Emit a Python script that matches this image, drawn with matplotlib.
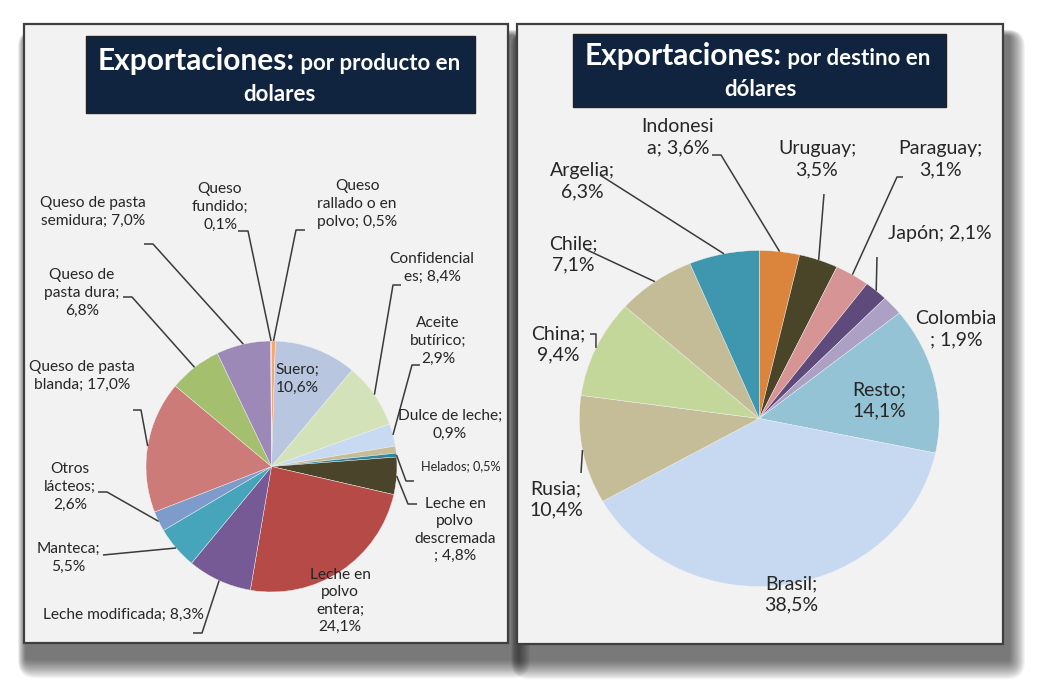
import numpy as np
import matplotlib.pyplot as plt
from matplotlib.patches import Rectangle, FancyBboxPatch

# datos: exportaciones por producto (%)
productos = ['Queso rallado o en polvo', 'Suero', 'Confidenciales', 'Aceite butírico',
             'Dulce de leche', 'Helados', 'Leche en polvo descremada',
             'Leche en polvo entera', 'Leche modificada', 'Manteca', 'Otros lácteos',
             'Queso de pasta blanda', 'Queso de pasta dura', 'Queso de pasta semidura',
             'Queso fundido']
prod_valores = [0.5, 10.6, 8.4, 2.9, 0.9, 0.5, 4.8, 24.1, 8.3, 5.5, 2.6, 17.0, 6.8, 7.0, 0.1]
prod_etiquetas = ['Queso\nrallado o en\npolvo; 0,5%', 'Suero;\n10,6%', 'Confidencial\nes; 8,4%',
                  'Aceite\nbutírico;\n2,9%', 'Dulce de leche;\n0,9%', 'Helados; 0,5%',
                  'Leche en\npolvo\ndescremada\n; 4,8%', 'Leche en\npolvo\nentera;\n24,1%',
                  'Leche modificada; 8,3%', 'Manteca;\n5,5%', 'Otros\nlácteos;\n2,6%',
                  'Queso de pasta\nblanda; 17,0%', 'Queso de\npasta dura;\n6,8%',
                  'Queso de pasta\nsemidura; 7,0%', 'Queso\nfundido;\n0,1%']
prod_colores = ['#F9A66C', '#B8C6E0', '#D4E2BA', '#C8DAF1', '#C4BD97', '#31859C', '#4A452A',
                '#B64A47', '#765A96', '#46A4BB', '#7E9CCB', '#CD7B78', '#A4C06E', '#9C89B8',
                '#E6B9B8']

# datos: exportaciones por destino (%)
destinos = ['Indonesia', 'Uruguay', 'Paraguay', 'Japón', 'Colombia', 'Resto', 'Brasil',
            'Rusia', 'China', 'Chile', 'Argelia']
dest_valores = [3.6, 3.5, 3.1, 2.1, 1.9, 14.1, 38.5, 10.4, 9.4, 7.1, 6.3]
dest_etiquetas = ['Indonesi\na; 3,6%', 'Uruguay;\n3,5%', 'Paraguay;\n3,1%', 'Japón; 2,1%',
                  'Colombia\n; 1,9%', 'Resto;\n14,1%', 'Brasil;\n38,5%', 'Rusia;\n10,4%',
                  'China;\n9,4%', 'Chile;\n7,1%', 'Argelia;\n6,3%']
dest_colores = ['#DB843C', '#4A4528', '#D69594', '#5F4A7C', '#ACA0C5', '#93C3D5', '#C7D9F0',
                '#C5BD98', '#C4D79B', '#C4BC96', '#3F96AF']

W, H = 1051, 693
fig = plt.figure(figsize=(W / 100, H / 100), dpi=100)
fig.patch.set_facecolor('white')


def pixel_axes(zorder):
    ax = fig.add_axes([0, 0, 1, 1], zorder=zorder)
    ax.set_xlim(0, W)
    ax.set_ylim(H, 0)
    ax.axis('off')
    ax.patch.set_alpha(0)
    return ax


fondo = pixel_axes(0)
capa = pixel_axes(3)

# paneles con sombra
for (x0, y0, x1, y1) in [(24, 24, 508, 643), (517, 24, 1003, 644)]:
    for k in range(16):
        g = 16 - k
        fondo.add_patch(FancyBboxPatch((x0 + 2 - g * 0.5, y0 + 12 - g * 0.4),
                                       (x1 - x0) + 4 + g * 1.5, (y1 - y0) + 4 + g * 1.6,
                                       boxstyle='round,pad=0,rounding_size=%d' % (g + 2),
                                       fc='black', ec='none', alpha=0.045))
    fondo.add_patch(Rectangle((x0, y0), x1 - x0, y1 - y0, fc='#F2F2F2', ec='#3F3F3F', lw=1.6))

# cajas de titulo
titulos = [((86, 36, 475, 113), 295, 70, ' por producto en', 279, 101, 'dolares'),
           ((573, 34, 946, 107), 782, 65, ' por destino en', 760, 96, 'dólares')]
for (bx0, by0, bx1, by1), sx, sy, resto, lx, ly, linea2 in titulos:
    fondo.add_patch(Rectangle((bx0, by0), bx1 - bx0, by1 - by0, fc='#10243F', ec='#222222', lw=1))
    capa.text(sx, sy, 'Exportaciones:', ha='right', va='baseline', color='white',
              fontsize=21.5, fontweight='bold', family='Lato')
    capa.text(sx, sy, resto, ha='left', va='baseline', color='white',
              fontsize=16, fontweight='bold', family='Lato')
    capa.text(lx, ly, linea2, ha='center', va='baseline', color='white',
              fontsize=16, fontweight='bold', family='Lato')


def dibujar_pie(valores, colores, cx, cy, rx, ry):
    ax = fig.add_axes([(cx - rx) / W, (H - cy - ry) / H, 2 * rx / W, 2 * ry / H], zorder=2)
    wedges, _ = ax.pie(valores, colors=colores, startangle=90, counterclock=False,
                       wedgeprops=dict(linewidth=0.3, edgecolor='#F2F2F2'))
    ax.set_aspect('auto')
    ax.set_xlim(-1, 1)
    ax.set_ylim(-1, 1)
    ax.axis('off')
    # punto del borde en el angulo medio de cada porcion, en pixeles
    bordes = []
    for w in wedges:
        t = np.deg2rad((w.theta1 + w.theta2) / 2)
        bordes.append((cx + rx * np.cos(t), cy - ry * np.sin(t)))
    return bordes


bordes_prod = dibujar_pie(prod_valores, prod_colores, 271.5, 466.5, 125.5, 125.5)
bordes_dest = dibujar_pie(dest_valores, dest_colores, 759.3, 418.5, 180, 168)

# posicion de etiquetas (pixeles) y codo de la linea guia
layout_prod = [
    ((357, 204), [(305, 230), (296, 230)]),
    ((297, 379), None),
    ((432, 268), [(401, 285), (393, 285)]),
    ((438, 341), [(420, 365), (412, 365)]),
    ((450, 425), None),
    ((461, 466), [(414, 481), (406, 481)]),
    ((455, 530), [(417, 504), (408, 504)]),
    ((340, 601), None),
    ((123, 615), [(193, 633), (202, 633)]),
    ((68, 558), [(103, 555)]),
    ((70, 487), [(98, 492), (107, 492)]),
    ((82, 376), [(133, 410), (141, 410)]),
    ((82, 293), [(123, 297), (132, 297)]),
    ((93, 212), [(144, 244), (153, 244)]),
    ((220, 207), [(238, 231), (248, 231)]),
]
layout_dest = [
    ((678, 137), [(712, 155), (721, 155)]),
    ((817, 159), [(824, 194)]),
    ((940, 159), [(903, 177), (897, 177)]),
    ((940, 233), [(877, 257)]),
    ((956, 329), None),
    ((879, 400), None),
    ((791, 594), None),
    ((556, 499), [(581, 473)]),
    ((558, 344), [(590, 334), (596, 334)]),
    ((573, 254), [(585, 249)]),
    ((582, 181), [(600, 175)]),
]

guia = dict(color='#3A3A3A', lw=1.1, solid_capstyle='butt')
for i, ((tx, ty), codo) in enumerate(layout_prod):
    fs = 9.2 if productos[i] == 'Helados' else 11.2
    capa.text(tx, ty, prod_etiquetas[i], ha='center', va='center', fontsize=fs,
              family='Lato', color='#262626', linespacing=1.32)
    if codo:
        xs = [p[0] for p in codo] + [bordes_prod[i][0]]
        ys = [p[1] for p in codo] + [bordes_prod[i][1]]
        capa.plot(xs, ys, **guia)

for i, ((tx, ty), codo) in enumerate(layout_dest):
    capa.text(tx, ty, dest_etiquetas[i], ha='center', va='center', fontsize=14,
              family='Lato', color='#262626', linespacing=1.3)
    if codo:
        xs = [p[0] for p in codo] + [bordes_dest[i][0]]
        ys = [p[1] for p in codo] + [bordes_dest[i][1]]
        capa.plot(xs, ys, **guia)

fig.savefig('out.png', dpi=100)
